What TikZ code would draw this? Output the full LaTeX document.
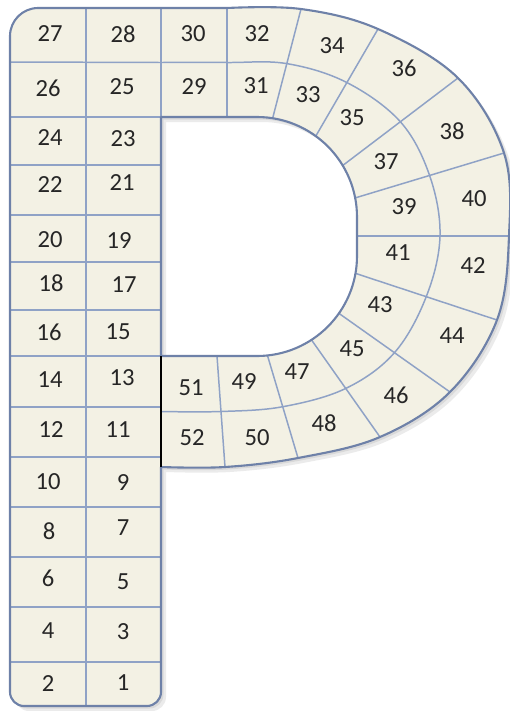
\documentclass[tikz,border=0pt]{standalone}
\usepackage{fontspec}
\setmainfont{Carlito}
\usetikzlibrary{calc}
\definecolor{cream}{HTML}{F3F1E4}
\definecolor{gridblue}{HTML}{8FA2C6}
\definecolor{rimblue}{HTML}{6E81A8}
\tikzset{
  num/.style      = {font=\fontsize{14}{16}\selectfont, text=black!85, inner sep=1pt},
  cellline/.style = {draw=gridblue, line width=0.85pt},
  rim/.style      = {draw=rimblue, line width=1.2pt, line join=round},
  cut/.style      = {draw=black, line width=1.5pt},
  cast/.style     = {fill=black, opacity=0.08, even odd rule}
}
% outline of the letter and of its hole (needs the named points of the picture)
\newcommand\Pouter{(161,560) [rounded corners=8pt] -- (161,706) -- (10,706)
  [rounded corners=16pt] -- (10,8) [sharp corners]
  -- plot[smooth,tension=.6] coordinates {(o1) (o2) (o3) (o4) (o5) (o6) (o7) (o8) (o9) (o10) (o11) (o12)} -- cycle}
\newcommand\Phole{(i0) -- (257,117) arc[start angle=-90,end angle=0,radius=100]
  -- (357,256) arc[start angle=0,end angle=90,radius=100] -- (i12) -- cycle}

\begin{document}
\begin{tikzpicture}[x=0.02cm,y=0.02cm,yscale=-1]
  \useasboundingbox (0,0) rectangle (510,711);
  % ---- spokes: inner end (i), outer end (o) ----
  \coordinate (ct) at (257,217);
  \coordinate (cb) at (257,256);
  \coordinate (i0) at (161,117);              \coordinate (o0) at (161,8);
  \coordinate (i1) at (227,117);              \coordinate (o1) at (227,8);
  \coordinate (i2) at ($(ct)+(-81:100)$);     \coordinate (o2) at (301,9);
  \coordinate (i3) at ($(ct)+(-54:100)$);     \coordinate (o3) at (378,29);
  \coordinate (i4) at ($(ct)+(-31:100)$);     \coordinate (o4) at (458,78);
  \coordinate (i5) at ($(ct)+(-11:100)$);     \coordinate (o5) at (504,153);
  \coordinate (i6) at (357,236);              \coordinate (o6) at (509,236);
  \coordinate (i7) at ($(cb)+(10:100)$);      \coordinate (o7) at (497,320);
  \coordinate (i8) at ($(cb)+(35:100)$);      \coordinate (o8) at (450,392);
  \coordinate (i9) at ($(cb)+(57:100)$);      \coordinate (o9) at (380,437);
  \coordinate (i10) at ($(cb)+(84:100)$);     \coordinate (o10) at (298,458);
  \coordinate (i11) at (217,356);             \coordinate (o11) at (225,467);
  \coordinate (i12) at (161,356);             \coordinate (o12) at (161,467);
  \foreach \k in {0,...,12} \coordinate (m\k) at ($(i\k)!.5!(o\k)$);
  \coordinate (m6) at (440,236);

  % ---- letter ----
  \path[cast, transform canvas={shift={(5,-5)}}] \Pouter \Phole;
  \path[cast, transform canvas={shift={(2.5,-2.5)}}] \Pouter \Phole;
  \fill[cream, even odd rule] \Pouter \Phole;

  % ---- stem ----
  \draw[cellline] (86,8) -- (86,706);
  \foreach \y in {117,165,215,262,310,356,407,457,507,557,607,662}
    \draw[cellline] (10,\y) -- (161,\y);
  \draw[cellline] (i0) -- (o0);

  % ---- bow ----
  \draw[cellline] (10,62) -- plot[smooth,tension=.6] coordinates
    {(m0) (m1) (m2) (m3) (m4) (m5) (m6) (m7) (m8) (m9) (m10) (m11) (m12)};
  \foreach \k in {1,...,11} \draw[cellline] (i\k) -- (o\k);
  \draw[rim] \Pouter \Phole;
  \draw[cut] (i12) -- (o12);

  % ---- numbers ----
  \foreach \t/\x/\y in {27/50/34, 28/123/34, 26/48/88, 25/122/87, 24/50/138,
      23/123/139, 22/50/185, 21/122/183, 20/50/240, 19/119/241, 18/51/283,
      17/124/285, 16/49/332, 15/118/332, 14/50/380, 13/122/378, 12/51/430,
      11/118/430, 10/48/482, 9/123/483, 8/49/531, 7/123/528, 6/48/578,
      5/123/582, 4/48/631, 3/123/632, 2/48/684, 1/123/683}
    \node[num] (n\t) at (\x,\y) {\t};
  \foreach \t/\x/\y in {30/193/34, 29/194/87, 32/257/34, 31/256/86, 34/332/46,
      33/308/95, 36/404/68, 35/352/118, 38/452/131, 37/386/162, 40/474/199,
      39/404/207, 42/473/266, 41/398/253, 44/452/336, 43/380/305, 46/396/395,
      45/352/349, 48/324/423, 47/297/372, 50/257/438, 49/244/382, 52/192/438,
      51/191/388}
    \node[num] (n\t) at (\x,\y) {\t};
\end{tikzpicture}
\end{document}
